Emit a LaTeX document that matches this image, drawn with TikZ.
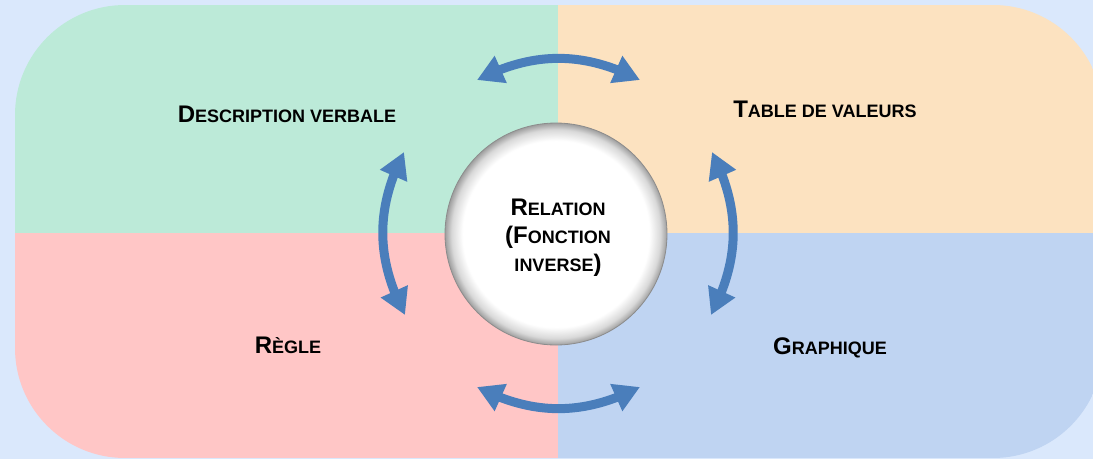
\documentclass[tikz,border=0pt]{standalone}
\usepackage{fontspec}
\setmainfont{Liberation Sans}
\usetikzlibrary{arrows.meta,bending}

\definecolor{bgblue}{HTML}{DAE8FC}
\definecolor{qgreen}{HTML}{BCEAD8}
\definecolor{qpeach}{HTML}{FCE2C0}
\definecolor{qpink}{HTML}{FFC6C6}
\definecolor{qblue}{HTML}{BFD4F2}
\definecolor{arrowblue}{HTML}{4A7EBB}

% white disc with a soft grey rim
\pgfdeclareradialshading{rimshade}{\pgfpoint{0bp}{0bp}}{%
  color(0bp)=(white); color(21bp)=(white); color(23.5bp)=(black!15);
  color(25bp)=(black!38); color(50bp)=(black!38)}

% fake small caps: large initial, smaller rest
\newcommand\capword[2]{{\fontsize{24}{28}\selectfont #1}{\fontsize{18}{28}\selectfont #2}}

\begin{document}
\begin{tikzpicture}[x=1pt,y=-1pt,
  quadtext/.style={anchor=base, inner sep=0pt, font=\bfseries},
  linkarrow/.style={line width=9pt, draw=arrowblue,
    arrows={Triangle[length=26pt,width=28pt]-Triangle[length=26pt,width=28pt]}}]

\clip (0,0) rectangle (1093,459);
\fill[bgblue] (0,0) rectangle (1093,459);

% four coloured quadrants inside one rounded frame
\begin{scope}
  \clip[rounded corners=110pt] (15,5) rectangle (1103,458);
  \fill[qgreen] (15,5) rectangle (558,233);
  \fill[qpeach] (558,5) rectangle (1103,233);
  \fill[qpink]  (15,233) rectangle (558,458);
  \fill[qblue]  (558,233) rectangle (1103,458);
\end{scope}

% quadrant titles
\node[quadtext] (desc)  at (287,122) {\capword{D}{ESCRIPTION VERBALE}};
\node[quadtext] (table) at (825,117) {\capword{T}{ABLE DE VALEURS}};
\node[quadtext] (regle) at (288,353) {\capword{R}{ÈGLE}};
\node[quadtext] (graph) at (830,354) {\capword{G}{RAPHIQUE}};

% central disc
\node[circle, minimum size=222pt, inner sep=0pt, draw=black!45, line width=0.8pt,
      shade, shading=rimshade] (rel) at (556,234) {};
\node[quadtext] (relA) at (558,215) {\capword{R}{ELATION}};
\node[quadtext] (relB) at (558,243) {\capword{(F}{ONCTION}};
\node[quadtext] (relC) at (558,271) {{\fontsize{18}{28}\selectfont INVERSE}{\fontsize{24}{28}\selectfont )}};

% arrow end points
\coordinate (topL) at (477,80);
\coordinate (topR) at (640,80);
\coordinate (botL) at (477,387);
\coordinate (botR) at (640,387);
\coordinate (lefT) at (404,152);
\coordinate (lefB) at (405,315);
\coordinate (rigT) at (712,152);
\coordinate (rigB) at (711,315);

% curved double arrows between neighbouring quadrants
\draw[linkarrow] (topL) to[bend left=27]  (topR);
\draw[linkarrow] (botL) to[bend right=27] (botR);
\draw[linkarrow] (lefT) to[bend right=27] (lefB);
\draw[linkarrow] (rigT) to[bend left=27]  (rigB);

\end{tikzpicture}
\end{document}
